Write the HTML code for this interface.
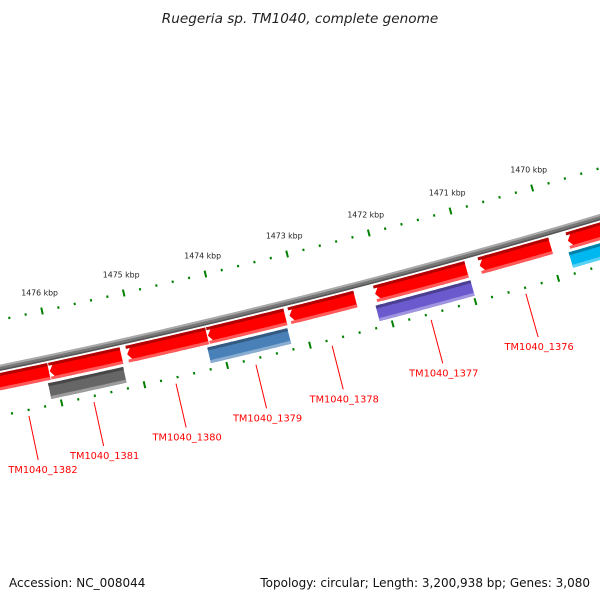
<!DOCTYPE html>
<html><head><meta charset="utf-8"><style>
html,body{margin:0;padding:0;background:#fff;}
svg{display:block;font-family:"DejaVu Sans","Liberation Sans",sans-serif;}
</style></head><body>
<svg id="map" width="600" height="600" viewBox="0 0 600 600">
<text x="300" y="23" text-anchor="middle" font-size="13.6" font-style="italic" fill="#222">Ruegeria sp. TM1040, complete genome</text>
<text x="9" y="587" font-size="12" fill="#111">Accession: NC_008044</text>
<text x="590" y="587" text-anchor="end" font-size="12" fill="#111">Topology: circular; Length: 3,200,938 bp; Genes: 3,080</text>
<g id="rulers"></g><g id="backbone"></g><g id="genes"></g><g id="labels"></g>
</svg>
<script>
// data
const tickKbp = [1476, 1475, 1474, 1473, 1472, 1471, 1470];
const tickLabels = ["1476 kbp","1475 kbp","1474 kbp","1473 kbp","1472 kbp","1471 kbp","1470 kbp"];
const geneStart = [1476.75, 1476.06, 1475.12, 1474.14, 1473.15, 1472.11, 1470.84, 1469.77, 1476.11, 1474.18, 1472.14, 1469.80];
const geneEnd   = [1476.07, 1475.19, 1474.15, 1473.20, 1472.35, 1471.00, 1469.98, 1468.8, 1475.20, 1473.21, 1470.99, 1468.8];
const geneTrack = [1,1,1,1,1,1,1,1,2,2,2,2];
const geneArrow = [1,1,1,1,1,1,1,1,0,0,0,0];
const geneColor = ["#ff0000","#ff0000","#ff0000","#ff0000","#ff0000","#ff0000","#ff0000","#ff0000","#666666","#4a80b8","#6a5acd","#00b8f0"];
const labelNames = ["TM1040_1382","TM1040_1381","TM1040_1380","TM1040_1379","TM1040_1378","TM1040_1377","TM1040_1376"];
const labelGene = [0,1,2,3,4,5,6];

const NS="http://www.w3.org/2000/svg";
function U(k){return 1476-k;}
function P(k,d){const u=U(k);const x=42+81.7*u, y=311-17.5*u-0.5*u*u;
  const nx=17.5+u, ny=81.7, l=Math.hypot(nx,ny);return [x+d*nx/l, y+d*ny/l];}
function mk(tag,attrs,parent){const e=document.createElementNS(NS,tag);for(const k in attrs)e.setAttribute(k,attrs[k]);parent.appendChild(e);return e;}
function band(k1,k2,d1,d2){const pts=[];const n=30;
  for(let i=0;i<=n;i++){pts.push(P(k1+(k2-k1)*i/n,d1));}
  for(let i=n;i>=0;i--){pts.push(P(k1+(k2-k1)*i/n,d2));}
  return pts.map(p=>p[0].toFixed(1)+","+p[1].toFixed(1)).join(" ");}
function arrowPoly(ks,ke,d1,d2,arrow){const ah=0.07;const pts=[];const n=30;
  const kb=arrow?ks-ah:ks;
  for(let i=0;i<=n;i++)pts.push(P(kb+(ke-kb)*i/n,d1));
  for(let i=n;i>=0;i--)pts.push(P(kb+(ke-kb)*i/n,d2));
  if(arrow)pts.push(P(ks,(d1+d2)/2));
  return pts.map(p=>p[0].toFixed(1)+","+p[1].toFixed(1)).join(" ");}

const rul=document.getElementById('rulers');
for(let k=1478;k>=1468;k=Math.round((k-0.2)*10)/10){
  const major=Math.abs(k-Math.round(k))<1e-6;
  [0,94].forEach(function(d0){
    const h=major?3.5:1.2;const a=P(k,d0-h),b=P(k,d0+h);
    const t=mk('line',{x1:a[0],y1:a[1],x2:b[0],y2:b[1],stroke:'#008000','stroke-width':2},rul);
    
    
  });
}
tickKbp.forEach(function(k,i){const p=P(k,-16);
  const t=mk('text',{x:p[0]+1,y:p[1],'text-anchor':'middle','font-size':7.8,fill:'#222'},rul);
  t.textContent=tickLabels[i];
  
  
});
const bb=document.getElementById('backbone');
let b1=mk('polygon',{points:band(1478,1468,44,50),fill:'#777'},bb);


mk('polygon',{points:band(1478,1468,44,46),fill:'#aaa'},bb);
mk('polygon',{points:band(1478,1468,48.5,50),fill:'#555'},bb);
function shade(c,f){const n=parseInt(c.slice(1),16);let r=n>>16,g=(n>>8)&255,b=n&255;
  if(f<0){r*=1+f;g*=1+f;b*=1+f;}else{r+=(255-r)*f;g+=(255-g)*f;b+=(255-b)*f;}
  return 'rgb('+Math.round(r)+','+Math.round(g)+','+Math.round(b)+')';}
const gg=document.getElementById('genes');
geneStart.forEach(function(ks,i){
  const tr=geneTrack[i];const d1=tr===1?52:72, d2=tr===1?69:88;
  const g=mk('g',{},gg);
  
  
  mk('polygon',{points:arrowPoly(ks,geneEnd[i],d1,d2,geneArrow[i]),fill:geneColor[i]},g);
  mk('polygon',{points:band(ks,geneEnd[i],d1,d1+3),fill:shade(geneColor[i],-0.3)},g);
  mk('polygon',{points:band(ks,geneEnd[i],d2-3,d2),fill:shade(geneColor[i],0.35)},g);
});
const lg=document.getElementById('labels');
labelNames.forEach(function(nm,i){const gi=labelGene[i];
  const km=(geneStart[gi]+geneEnd[gi])/2;const a=P(km,100),b=P(km,145);
  const l=mk('line',{x1:a[0],y1:a[1],x2:b[0],y2:b[1],stroke:'#ff0000','stroke-width':1},lg);
  
  
  const t=mk('text',{x:Math.max(b[0]+1,43),y:b[1]+13,'text-anchor':'middle','font-size':9.8,fill:'#ff0000'},lg);
  t.textContent=nm;
  
  
});
</script>
</body></html>
